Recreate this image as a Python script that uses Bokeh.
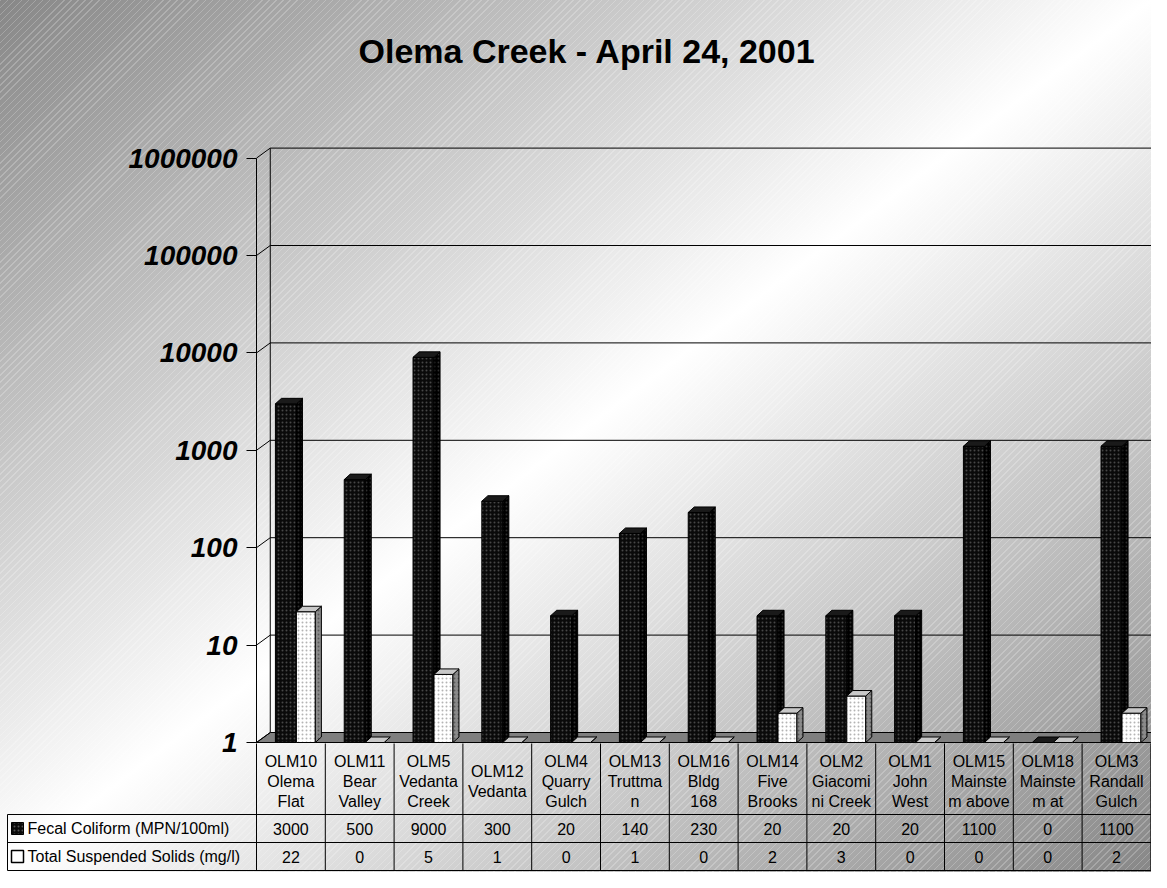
import numpy as np
from bokeh.plotting import figure
from bokeh.models import Range1d, FixedTicker, NumeralTickFormatter, LinearScale
from bokeh.core.properties import value
from bokeh.embed import file_html
from bokeh.resources import INLINE

# ---------------- data ----------------
title_text = "Olema Creek - April 24, 2001"
categories = ["OLM10\nOlema\nFlat", "OLM11\nBear\nValley", "OLM5\nVedanta\nCreek", "OLM12\nVedanta",
              "OLM4\nQuarry\nGulch", "OLM13\nTruttma\nn", "OLM16\nBldg\n168", "OLM14\nFive\nBrooks",
              "OLM2\nGiacomi\nni Creek", "OLM1\nJohn\nWest", "OLM15\nMainste\nm above",
              "OLM18\nMainste\nm at", "OLM3\nRandall\nGulch"]
series_names = ["Fecal Coliform (MPN/100ml)", "Total Suspended Solids (mg/l)"]
fecal = [3000, 500, 9000, 300, 20, 140, 230, 20, 20, 20, 1100, 0, 1100]
tss = [22, 0, 5, 1, 0, 1, 0, 2, 3, 0, 0, 0, 2]
y_ticks = [1, 10, 100, 1000, 10000, 100000, 1000000]

# ---------------- layout constants ----------------
FONT = "Liberation Sans"
W, H = 1151, 872
UNIT = 68.8           # px per category
LEFT = 256            # x of the front value axis (px)
DEC = 97.4            # px per decade
BASE = 742            # px of value 1
TOPB = 74             # title band
x_lo = -LEFT / UNIT
x_hi = (W - LEFT) / UNIT
y_lo = 10 ** (-(H - BASE) / DEC)
y_hi = 10 ** ((BASE - TOPB) / DEC)

DXW = 0.2
DYW = 10 ** (10 / DEC)
DXB = 0.088
DYB = 10 ** (5.5 / DEC)

n = len(categories)
centers = np.arange(n) + 0.5

background = ("repeating-linear-gradient(135deg, rgba(255,255,255,0.22) 0px, rgba(255,255,255,0.22) 1px, "
              "rgba(255,255,255,0) 1px, rgba(255,255,255,0) 5px), "
              "linear-gradient(to bottom right, #878787 0%, #ffffff 50%, #878787 100%)")

p = figure(width=W, height=H, y_axis_type="log",
           x_range=Range1d(x_lo, x_hi), y_range=Range1d(y_lo, y_hi),
           min_border_left=0, min_border_right=0, min_border_top=TOPB, min_border_bottom=0,
           x_axis_location=None, toolbar_location=None, output_backend="svg",
           background_fill_color=None, border_fill_color=None, outline_line_color=None,
           styles={"background": background})
p.xgrid.visible = False
p.ygrid.visible = False

# table coordinate system: pixels below the floor front edge
TAB0 = 743
p.extra_y_ranges = {"tab": Range1d(H - TAB0, TOPB - TAB0)}
p.extra_y_scales = {"tab": LinearScale()}

p.title.text = title_text
p.title.align = "left"
p.title.offset = 358
p.title.text_font = FONT
p.title.text_font_size = "34px"
p.title.text_font_style = "bold"
p.title.text_color = "black"

ax = p.yaxis[0]
ax.fixed_location = 0
ax.ticker = FixedTicker(ticks=y_ticks)
ax.formatter = NumeralTickFormatter(format="0")
ax.bounds = (y_ticks[0], y_ticks[-1])
ax.major_tick_out = 10
ax.major_tick_in = 0
ax.minor_tick_out = 0
ax.minor_tick_in = 0
ax.axis_line_color = "black"
ax.major_tick_line_color = "black"
ax.major_label_text_font = FONT
ax.major_label_text_font_size = "28px"
ax.major_label_text_font_style = "bold italic"
ax.major_label_text_color = "black"
ax.major_label_standoff = 9

yt = np.array(y_ticks, dtype=float)
back_y = yt * DYW
# floor
p.patch(x=[0, n, n + DXW, DXW], y=[1, 1, DYW, DYW], fill_color="#7f7f7f", line_color="black", line_width=1)
# back wall gridlines and edges
p.segment(x0=DXW, y0=back_y[1:], x1=x_hi + 1, y1=back_y[1:], line_color="black", line_width=1)
p.segment(x0=[DXW], y0=[back_y[0]], x1=[DXW], y1=[back_y[-1]], line_color="black", line_width=1)
p.segment(x0=0, y0=yt, x1=DXW, y1=back_y, line_color="black", line_width=1)


def bars(vals, off0, off1, front, side, top, dots_front, dots_side):
    v = np.array(vals, dtype=float)
    topv = np.maximum(v, 1.0)
    x0 = centers + off0
    x1 = centers + off1
    p.quad(left=x0, right=x1, bottom=1, top=topv, fill_color=front, line_color="black",
           line_width=1, hatch_pattern="dot", hatch_color=dots_front, hatch_scale=4, hatch_weight=1)
    p.patches(xs=[[a, a + DXB, a + DXB, a] for a in x1],
              ys=[[1, DYB, tt * DYB, tt] for tt in topv],
              fill_color=side, line_color="black", line_width=1,
              hatch_pattern="dot", hatch_color=dots_side, hatch_scale=4, hatch_weight=1)
    p.patches(xs=[[a, b, b + DXB, a + DXB] for a, b in zip(x0, x1)],
              ys=[[tt, tt, tt * DYB, tt * DYB] for tt in topv],
              fill_color=top, line_color="black", line_width=1)


bars(fecal, -0.225, 0.08, "#0a0a0a", "#000000", "#1a1a1a", "#474747", "#2e2e2e")
bars(tss, 0.08, 0.355, "#ffffff", "#8a8a8a", "#c8c8c8", "#b4b4b4", "#5a5a5a")

# ---------------- data table ----------------
hdr_bot, r1_bot, r2_bot = 71, 99, 127
leg_left = (7 - LEFT) / UNIT
edges = np.arange(n + 1)
t_kw = dict(y_range_name="tab")
p.segment(x0=edges, y0=0, x1=edges, y1=r2_bot, line_color="black", line_width=1, **t_kw)
p.segment(x0=leg_left, y0=[hdr_bot, r1_bot, r2_bot], x1=n, y1=[hdr_bot, r1_bot, r2_bot],
          line_color="black", line_width=1, **t_kw)
p.segment(x0=[leg_left], y0=[hdr_bot], x1=[leg_left], y1=[r2_bot], line_color="black", line_width=1, **t_kw)

p.text(x=centers, y=38, text=categories, text_align="center", text_baseline="middle",
       text_font=value(FONT), text_font_size="16px", text_color="black", **t_kw)
row_y = [(hdr_bot + r1_bot) / 2, (r1_bot + r2_bot) / 2]
p.text(x=centers, y=row_y[0], text=[str(v) for v in fecal], text_align="center", text_baseline="middle",
       text_font=value(FONT), text_font_size="16px", text_color="black", **t_kw)
p.text(x=centers, y=row_y[1], text=[str(v) for v in tss], text_align="center", text_baseline="middle",
       text_font=value(FONT), text_font_size="16px", text_color="black", **t_kw)

kx0 = (11 - LEFT) / UNIT
kx1 = (23 - LEFT) / UNIT
p.quad(left=kx0, right=kx1, bottom=[row_y[0] + 6], top=[row_y[0] - 6], fill_color="#0a0a0a",
       line_color="black", hatch_pattern="dot", hatch_color="#555555", hatch_scale=4, hatch_weight=1, **t_kw)
p.quad(left=kx0, right=kx1, bottom=[row_y[1] + 6], top=[row_y[1] - 6], fill_color="#ffffff",
       line_color="black", line_width=1.5, **t_kw)
p.text(x=(27 - LEFT) / UNIT, y=row_y, text=series_names, text_align="left", text_baseline="middle",
       text_font=value(FONT), text_font_size="16px", text_color="black", **t_kw)

open("out.html", "w").write(file_html(p, INLINE))
